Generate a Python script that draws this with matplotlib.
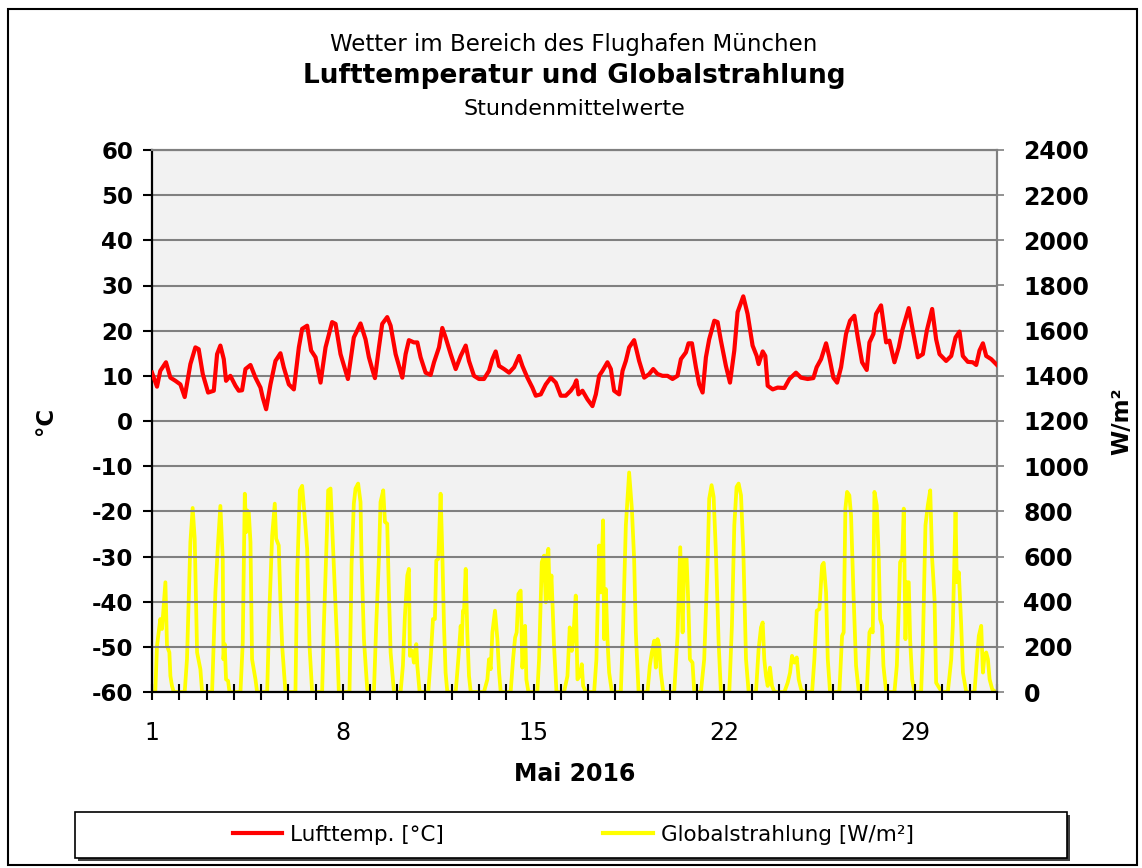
import matplotlib.pyplot as plt
from matplotlib.patches import Rectangle
from matplotlib.lines import Line2D

plt.rcParams['axes.unicode_minus'] = False

# hours since 1 May 2016 00:00
temp_hours = [0, 4.4, 7.3, 12.3, 16.2, 20.6, 25.0, 28.8, 33.8, 38.2,
              41.1, 44.7, 49.4, 54.4, 57.3, 60.2, 63.2, 65.2, 69.0, 73.5,
              76.4, 79.3, 82.3, 86.7, 91.1, 95.5, 97.5, 100.5, 104.3, 108.7,
              113.1, 116.0, 120.5, 124.9, 129.3, 132.2, 136.6, 140.1, 144.0, 148.4,
              152.8, 158.6, 161.6, 166.0, 172.5, 177.7,
              183.6, 188.0, 191.0, 193.9, 196.3, 199.8, 202.7, 207.1, 210.1, 214.5,
              220.4, 223.3, 226.2, 230.6, 233.6, 236.5, 240.9, 245.3, 248.3, 252.7,
              255.6, 258.5, 263.0, 267.4, 271.8, 276.2, 279.1, 283.5, 287.9, 292.3,
              296.7, 299.7, 302.6, 305.6, 310.0, 314.4, 318.8, 323.2, 326.1, 330.5,
              334.9, 337.9, 342.3, 346.7, 351.1, 355.5, 359.9, 364.3,
              368.7, 371.7, 373.7, 375.5, 379.0, 383.4, 387.8, 390.8, 393.7, 396.6,
              401.0, 404.0, 406.9, 411.3, 414.3, 417.2, 420.1, 424.5, 428.9, 433.4,
              437.8, 441.3, 445.1, 449.5, 453.9, 458.3, 462.7, 465.7, 470.1, 472.4,
              475.4, 478.9, 481.8, 484.8, 487.7, 490.6, 495.1, 498.0, 500.9, 505.3,
              508.9, 512.7, 515.6, 520.6, 524.4, 528.8, 532.4, 534.1, 537.7, 540.0,
              542.1, 546.5, 550.9,
              556.8, 561.2, 567.0, 571.4, 577.3, 582.3, 585.2, 589.1, 593.5, 596.4,
              599.9, 603.2, 606.7, 611.1, 614.6, 618.4, 621.4, 625.2, 629.3, 631.7,
              635.2, 637.5, 641.9, 646.4, 649.3, 653.7, 657.5, 660.5, 664.0, 666.3,
              669.9, 674.3, 678.7, 682.2, 686.9, 690.4, 693.4, 699.2, 703.7, 707.5,
              711.0, 713.9, 718.3, 722.7, 725.7, 728.6, 731.6, 734.5, 738.9, 744.0]
temp_values = [10.7, 7.6, 11.1, 13.0, 9.6, 8.9, 8.1, 5.3, 12.6, 16.3,
               15.9, 10.4, 6.3, 6.7, 14.8, 16.7, 13.7, 8.9, 10.0, 7.8,
               6.7, 6.8, 11.5, 12.4, 9.6, 7.4, 5.2, 2.6, 8.1, 13.3,
               15.0, 11.9, 8.1, 7.0, 16.3, 20.4, 21.1, 15.6, 14.1, 8.5,
               16.3, 21.9, 21.5, 14.8, 9.3, 18.5,
               21.6, 18.1, 14.1, 11.5, 9.5, 16.3, 21.5, 23.0, 21.1, 14.8,
               9.6, 14.8, 17.9, 17.4, 17.4, 14.1, 10.7, 10.2, 13.0, 16.3,
               20.6, 18.5, 14.8, 11.5, 14.4, 16.7, 13.3, 10.0, 9.3, 9.3,
               11.1, 13.7, 15.4, 12.2, 11.5, 10.7, 11.9, 14.4, 12.2, 9.6,
               7.4, 5.6, 5.9, 8.1, 9.6, 8.5, 5.6, 5.6,
               6.7, 7.8, 9.0, 5.9, 6.7, 4.8, 3.3, 5.9, 10.0, 11.1,
               13.0, 11.5, 6.7, 5.9, 11.1, 13.3, 16.3, 17.9, 13.3, 9.6,
               10.4, 11.5, 10.4, 10.0, 10.0, 9.3, 10.0, 13.7, 15.2, 17.2,
               17.2, 11.9, 8.1, 6.3, 14.1, 18.1, 22.2, 21.9, 17.8, 12.2,
               8.5, 15.6, 24.1, 27.6, 23.7, 16.7, 14.4, 12.6, 15.4, 14.4,
               7.8, 7.0, 7.4,
               7.3, 9.3, 10.7, 9.6, 9.3, 9.5, 11.9, 13.7, 17.2, 14.1,
               9.6, 8.5, 11.9, 19.3, 22.2, 23.3, 18.5, 13.0, 11.3, 17.4,
               19.3, 23.7, 25.6, 17.4, 17.8, 13.0, 16.3, 20.0, 23.0, 25.0,
               20.0, 14.1, 14.8, 20.0, 24.8, 18.1, 14.8, 13.3, 14.4, 18.5,
               19.8, 14.4, 13.1, 13.0, 12.4, 15.6, 17.2, 14.4, 13.7, 12.4]

rad_hours = [0, 2.9, 4.4, 7.3, 8.8, 11.8, 13.2, 15.3, 16.2, 17.6, 19.1,
             28.8, 30.8, 33.8, 35.8, 37.6, 39.7, 42.6, 44.1,
             52.9, 55.8, 58.2, 60.2, 62.3, 62.9, 64.0, 65.2, 67.0, 68.2,
             77.9, 79.9, 81.7, 82.9, 83.7, 85.2, 86.7, 88.1, 91.1, 92.5,
             101.4, 103.4, 105.8, 108.1, 109.3, 111.6, 113.1, 114.6, 117.5,
             126.3, 127.8, 130.2, 132.2, 134.6, 136.6, 138.7, 141.0,
             149.8, 151.3, 154.2, 155.1, 157.2, 158.6, 161.0, 163.1, 164.5,
             173.9, 175.7, 177.7, 179.2, 181.5, 183.6, 184.5, 186.6, 189.5, 191.0,
             195.4, 197.4, 199.8, 201.2, 203.6, 205.1, 207.1, 208.6, 210.1, 213.0,
             218.9, 220.9, 222.7, 224.8, 226.2, 227.1, 229.2, 230.6, 232.7, 233.6, 235.6,
             243.3, 245.3, 247.4, 249.1, 250.3, 252.1, 254.1, 255.6, 257.1, 258.5, 260.0,
             267.4, 269.7, 271.8, 272.6, 273.8, 274.7, 276.2, 277.6, 279.1, 280.6,
             292.3, 295.3, 296.7, 298.2, 299.7, 302.0, 304.1, 305.6, 307.0,
             315.8, 317.9, 319.7, 321.1, 322.6, 324.6, 326.1, 328.5, 329.6, 331.4,
             339.3, 340.8, 343.2, 345.2, 346.7, 347.6, 349.0, 350.2, 351.7, 354.0, 356.1,
             362.8, 365.8, 367.8, 369.6, 370.8, 373.1, 374.6, 376.6, 378.4, 379.6, 381.9,
             389.3, 391.3, 393.7, 395.2, 397.2, 398.1, 399.6, 401.0, 402.5, 404.9,
             412.8, 414.8, 417.2, 420.1, 422.5, 424.5, 426.0, 428.4,
             436.3, 438.3, 440.1, 442.2, 443.6, 445.1, 446.6, 448.0, 450.1,
             459.8, 462.7, 465.1, 467.2, 468.6, 470.7, 472.4, 473.6, 475.9, 477.4,
             483.3, 486.2, 489.2, 490.6, 492.7, 494.5, 496.5, 498.9, 500.9,
             508.3, 510.6, 512.7, 514.7, 516.5, 518.6, 520.6, 523.0, 525.3,
             531.8, 534.1, 536.2, 537.7, 539.1, 540.6, 542.1, 544.1, 545.9, 548.0,
             556.8, 559.7, 561.8, 563.5, 565.6, 567.7, 569.4, 571.5, 573.5,
             581.2, 583.2, 585.3, 587.6, 590.0, 591.4, 593.5, 595.0, 597.0,
             605.2, 607.6, 609.0, 610.5, 612.0, 614.0, 615.5, 617.6, 619.9, 622.3,
             629.3, 631.7, 633.1, 634.6, 636.1, 638.1, 639.9, 641.1, 642.8, 644.0, 646.4,
             653.7, 655.8, 657.5, 658.7, 660.5, 661.9, 663.4, 664.6, 666.3, 667.5, 669.3, 671.3,
             677.2, 678.7, 681.0, 683.1, 685.2, 686.9, 689.0, 690.4, 693.9, 696.3,
             700.7, 703.7, 705.1, 707.5, 708.6, 710.4, 712.5, 714.0, 716.9,
             724.2, 726.3, 728.0, 730.1, 731.6, 733.0, 734.5, 736.0, 737.5, 739.8, 742.7, 744.0]
rad_values = [0, 0, 204, 323, 279, 486, 204, 175, 71, 27, 0,
              0, 145, 664, 815, 679, 175, 101, 0,
              0, 441, 664, 824, 590, 145, 212, 56, 49, 0,
              0, 219, 878, 708, 804, 797, 664, 145, 56, 0,
              0, 367, 693, 834, 679, 649, 397, 204, 0,
              0, 516, 893, 913, 767, 634, 204, 0,
              0, 293, 738, 893, 901, 738, 456, 204, 0,
              0, 560, 834, 901, 923, 841, 590, 234, 12, 0,
              0, 293, 590, 841, 893, 753, 745, 441, 175, 0,
              0, 116, 338, 516, 545, 160, 182, 130, 212, 116, 0,
              0, 145, 323, 323, 582, 590, 878, 619, 293, 86, 0,
              0, 145, 293, 204, 360, 353, 545, 264, 71, 0,
              0, 56, 145, 101, 264, 360, 234, 86, 0,
              0, 145, 241, 264, 434, 449, 108, 293, 56, 0,
              0, 145, 575, 604, 397, 590, 634, 412, 516, 204, 0,
              0, 71, 286, 182, 227, 427, 56, 71, 123, 27, 0,
              0, 145, 649, 441, 760, 234, 456, 234, 86, 0,
              0, 293, 738, 972, 812, 590, 264, 0,
              0, 116, 175, 227, 108, 234, 204, 86, 0,
              0, 249, 641, 264, 590, 590, 367, 145, 130, 0,
              0, 145, 575, 856, 916, 864, 619, 219, 0,
              0, 293, 738, 908, 923, 871, 634, 145, 0,
              0, 190, 286, 308, 145, 71, 27, 108, 27, 0,
              0, 41, 86, 160, 130, 153, 56, 12, 0,
              0, 145, 360, 367, 560, 572, 441, 145, 0,
              0, 249, 264, 812, 886, 871, 782, 441, 116, 0,
              0, 264, 279, 264, 886, 827, 590, 323, 293, 116, 0,
              0, 116, 367, 575, 590, 812, 234, 486, 486, 234, 56, 0,
              0, 204, 738, 827, 893, 590, 412, 41, 12, 0,
              0, 145, 293, 797, 486, 530, 293, 86, 0,
              0, 145, 249, 293, 86, 160, 175, 145, 56, 12, 0, 0]

label_days = [1, 8, 15, 22, 29]

W, H = 1142, 868
fig = plt.figure(figsize=(W / 100, H / 100), dpi=100)
ax = fig.add_axes([152 / W, 1 - 692 / H, 845 / W, 542 / H])
ax2 = ax.twinx()

temp_x = [1 + h / 24 for h in temp_hours]
rad_x = [1 + h / 24 for h in rad_hours]

rad_line, = ax2.plot(rad_x, rad_values, color='#ffff00', lw=2.7, solid_joinstyle='round')
temp_line, = ax.plot(temp_x, temp_values, color='#ff0000', lw=3.0, solid_joinstyle='round', zorder=3)
ax.set_zorder(ax2.get_zorder() + 1)
ax.patch.set_visible(False)
ax2.patch.set_visible(True)
ax2.patch.set_facecolor('#f2f2f2')

ax.set_xlim(1, 32)
ax.set_ylim(-60, 60)
ax2.set_ylim(0, 2400)
ax.set_yticks(range(-60, 61, 10))
ax2.set_yticks(range(0, 2401, 200))
ax.set_xticks(range(1, 33))
ax.set_xticklabels([str(d) if d in label_days else '' for d in range(1, 33)], fontsize=17)

ax.grid(axis='y', color='#808080', lw=1.5)
ax.set_axisbelow(True)
ax2.grid(False)

for s in ['left', 'bottom']:
    ax.spines[s].set_color('black')
    ax.spines[s].set_linewidth(1.6)
for s in ['top', 'right']:
    ax.spines[s].set_color('#808080')
    ax.spines[s].set_linewidth(1.5)
    ax2.spines[s].set_color('#808080')
    ax2.spines[s].set_linewidth(1.5)
ax2.spines['left'].set_visible(False)
ax2.spines['bottom'].set_visible(False)

ax.tick_params(axis='y', direction='out', length=6.5, width=1.5, pad=7, labelsize=16.5)
ax.tick_params(axis='x', direction='inout', length=12, width=1.5, pad=15)
ax2.tick_params(axis='y', direction='out', length=5, width=1.2, color='#808080', pad=14, labelsize=17)
for lab in ax.get_yticklabels() + ax2.get_yticklabels():
    lab.set_fontweight('bold')

ax.set_ylabel('°C', fontsize=16.5, fontweight='bold', labelpad=25)
ax2.set_ylabel('W/m²', fontsize=16.5, fontweight='bold', labelpad=15)
ax.set_xlabel('Mai 2016', fontsize=17, fontweight='bold', labelpad=12)

fig.text(0.5026, 1 - 45 / H, 'Wetter im Bereich des Flughafen München', ha='center', va='center', fontsize=16.5)
fig.text(0.5026, 1 - 76 / H, 'Lufttemperatur und Globalstrahlung', ha='center', va='center',
         fontsize=19, fontweight='bold')
fig.text(0.5026, 1 - 109 / H, 'Stundenmittelwerte', ha='center', va='center', fontsize=16)

# outer frame
fig.patches.append(Rectangle((8 / W, 3 / H), 1129 / W, 856 / H, transform=fig.transFigure,
                             fill=False, ec='black', lw=1.5))

# legend box with shadow
fig.patches.append(Rectangle((78 / W, 1 - 861 / H), 992 / W, 46 / H, transform=fig.transFigure,
                             fc='#404040', ec='none'))
fig.patches.append(Rectangle((75 / W, 1 - 858 / H), 992 / W, 46 / H, transform=fig.transFigure,
                             fc='white', ec='black', lw=1.2))
handles = [Line2D([], [], color='#ff0000', lw=3), Line2D([], [], color='#ffff00', lw=3)]
fig.legend(handles, ['Lufttemp. [°C]', 'Globalstrahlung [W/m²]'], loc='center',
           bbox_to_anchor=(0.502, 1 - 835 / H), ncol=2, frameon=False, fontsize=15.5,
           handlelength=2.3, handletextpad=0.37, columnspacing=7.4)

fig.savefig('out.png', dpi=100)
